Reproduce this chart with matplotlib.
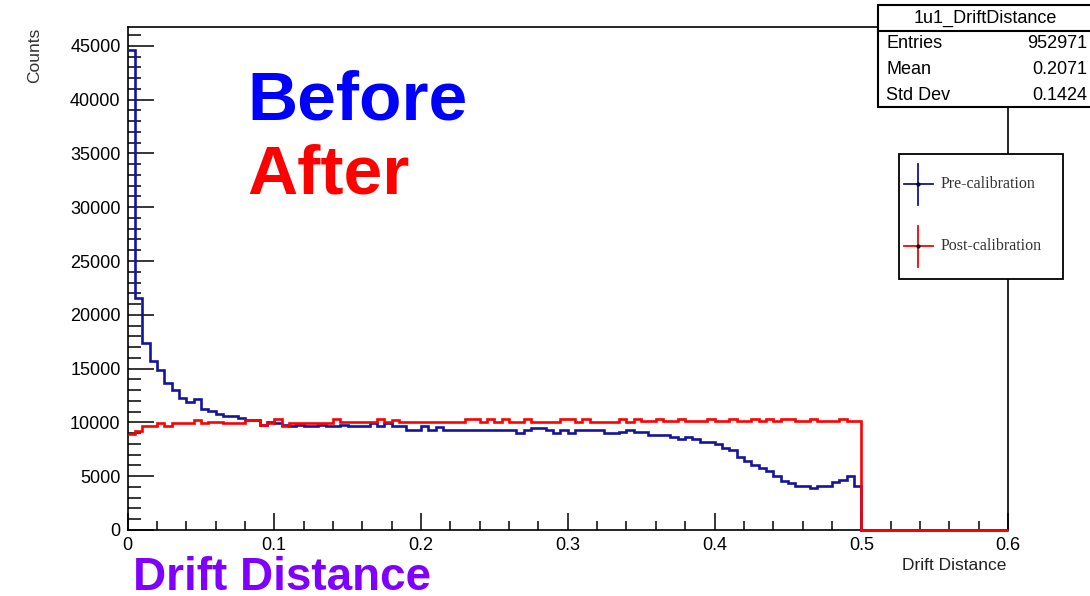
import numpy as np
import matplotlib
matplotlib.use("Agg")
from matplotlib import pyplot as plt
from matplotlib.patches import Rectangle
from matplotlib.lines import Line2D

plt.rcParams['font.family'] = ['Liberation Sans', 'DejaVu Sans']

# 120 bins of 0.005 between 0 and 0.6, entries only up to 0.5
bin_edges = np.linspace(0, 0.6, 121)

pre_calib = [
    44600, 21600, 17400, 15700, 14900, 13700, 13000, 12300, 11900, 12200,
    11200, 11100, 10770, 10640, 10640, 10400, 10240, 10240, 9780, 10020,
    9930, 9780, 9710, 9800, 9710, 9710, 9780, 9710, 9710, 9780,
    9710, 9710, 9710, 9930, 9710, 9930, 9620, 9620, 9310, 9250,
    9620, 9250, 9550, 9250, 9250, 9250, 9250, 9250, 9250, 9250,
    9250, 9250, 9250, 9000, 9250, 9470, 9470, 9250, 9060, 9250,
    9060, 9250, 9250, 9250, 9250, 9060, 9060, 9150, 9310, 9150,
    9150, 8850, 8850, 8850, 8630, 8440, 8630, 8440, 8220, 8220,
    7980, 7660, 7450, 6820, 6420, 6050, 5740, 5490, 5060, 4560,
    4350, 4130, 4130, 3880, 4130, 4130, 4500, 4650, 5060, 4100,
] + [0] * 20

post_calib = [
    8900, 9200, 9650, 9680, 9900, 9700, 9930, 9930, 9930, 10180,
    9930, 10080, 10080, 9990, 9990, 9990, 10200, 10200, 9780, 9900,
    10300, 9700, 9990, 9990, 9990, 9990, 9990, 9990, 10300, 10000,
    10000, 10000, 10000, 10000, 10300, 10000, 10250, 10050, 10050, 10050,
    10050, 10050, 10050, 10050, 10050, 10050, 10300, 10300, 10050, 10300,
    10050, 10300, 10050, 10050, 10300, 10050, 10050, 10050, 10050, 10300,
    10300, 10050, 10300, 10050, 10050, 10050, 10050, 10300, 10050, 10300,
    10100, 10100, 10300, 10100, 10100, 10300, 10100, 10100, 10100, 10300,
    10100, 10100, 10300, 10100, 10100, 10300, 10100, 10300, 10100, 10300,
    10300, 10100, 10100, 10300, 10100, 10100, 10100, 10300, 10100, 10100,
] + [0] * 20

xtick_vals = [0, 0.1, 0.2, 0.3, 0.4, 0.5, 0.6]
xtick_labels = ['0', '0.1', '0.2', '0.3', '0.4', '0.5', '0.6']
ytick_vals = [0, 5000, 10000, 15000, 20000, 25000, 30000, 35000, 40000, 45000]

stat_names = ['Entries', 'Mean', 'Std Dev']
stat_values = ['952971', '0.2071', '0.1424']

W, H = 1090, 596


def fx(px):
    return px / W


def fy(py):
    return 1 - py / H


fig = plt.figure(figsize=(W / 100, H / 100), dpi=100)
ax = fig.add_axes([fx(127.5), fy(530), fx(1008) - fx(127.5), fy(27) - fy(530)])

# histograms without end verticals, above the bottom spine so empty bins show on the axis
ax.stairs(pre_calib, bin_edges, baseline=None, color='#14149e', linewidth=1.9, zorder=3, clip_on=False)
ax.stairs(post_calib, bin_edges, baseline=None, color='#ff0000', linewidth=1.9, zorder=4, clip_on=False)

ax.set_xlim(0, 0.6)
ax.set_ylim(0, 46750)
ax.set_xticks(xtick_vals)
ax.set_xticklabels(xtick_labels)
ax.set_xticks(np.arange(0, 0.6001, 0.02), minor=True)
ax.set_yticks(ytick_vals)
ax.set_yticklabels([str(v) for v in ytick_vals])
ax.set_yticks(np.arange(0, 46751, 1000), minor=True)

ax.tick_params(axis='both', which='both', direction='in', width=1.1, labelsize=13)
ax.tick_params(axis='y', which='major', length=19, pad=5)
ax.tick_params(axis='y', which='minor', length=9.5)
ax.tick_params(axis='x', which='major', length=12, pad=5)
ax.tick_params(axis='x', which='minor', length=6.5)
for s in ax.spines.values():
    s.set_linewidth(1.2)

fig.text(fx(35), fy(28), 'Counts', rotation=90, ha='center', va='top', fontsize=12.5, color='#333333')
fig.text(fx(1006), fy(566), 'Drift Distance', ha='right', va='center', fontsize=12.5, color='#222222')

# annotations on the plot
fig.text(fx(247), fy(119), 'Before', color='#0000ff', fontsize=50, fontweight='bold', va='baseline')
fig.text(fx(247), fy(194), 'After', color='#ff0000', fontsize=50, fontweight='bold', va='baseline')
fig.text(fx(133), fy(590), 'Drift Distance', color='#8000ff', fontsize=33, fontweight='bold', va='baseline')

# statistics box
fig.add_artist(Rectangle((fx(878), fy(107)), fx(1100) - fx(878), fy(5) - fy(107),
                         transform=fig.transFigure, facecolor='white', edgecolor='black',
                         linewidth=1.5, clip_on=False))
fig.add_artist(Line2D([fx(878), fx(1100)], [fy(31), fy(31)], transform=fig.transFigure,
                      color='black', linewidth=1.5))
fig.text(fx(985), fy(18), '1u1_DriftDistance', ha='center', va='center', fontsize=13)
for i, (name, val) in enumerate(zip(stat_names, stat_values)):
    yy = fy(43 + 26 * i)
    fig.text(fx(886), yy, name, ha='left', va='center', fontsize=13)
    fig.text(fx(1087), yy, val, ha='right', va='center', fontsize=13)

# legend box
fig.add_artist(Rectangle((fx(899), fy(279)), fx(1063) - fx(899), fy(154) - fy(279),
                         transform=fig.transFigure, facecolor='white', edgecolor='black',
                         linewidth=1.3))
for yc, col, lab in [(184, '#14149e', 'Pre-calibration'), (246, '#ff0000', 'Post-calibration')]:
    fig.add_artist(Line2D([fx(918), fx(918)], [fy(yc - 20), fy(yc + 21)],
                          transform=fig.transFigure, color=col, linewidth=1.3))
    fig.add_artist(Line2D([fx(904), fx(933)], [fy(yc), fy(yc)],
                          transform=fig.transFigure, color=col, linewidth=1.3))
    fig.add_artist(Line2D([fx(918)], [fy(yc)], transform=fig.transFigure,
                          marker='o', markersize=2, color='black'))
    fig.text(fx(941), fy(yc), lab, ha='left', va='center', fontsize=11.5,
             family=['Liberation Serif', 'DejaVu Serif'], color='#333333')

plt.savefig('out.png', dpi=100)
